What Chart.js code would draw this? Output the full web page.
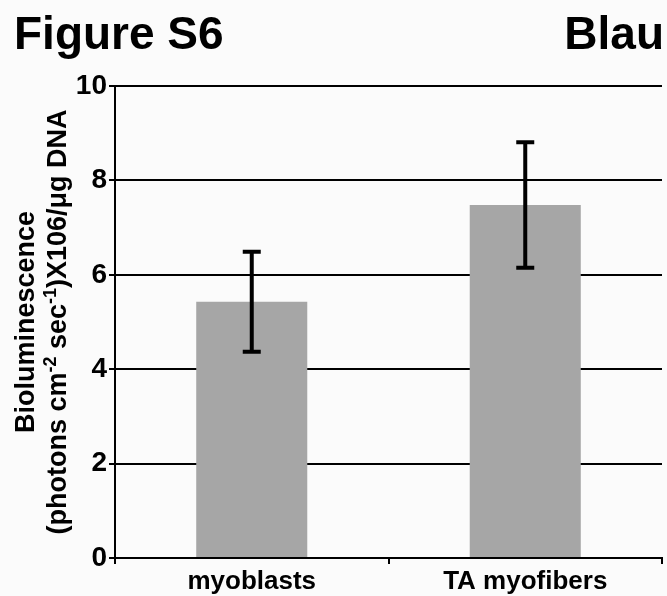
<!DOCTYPE html>
<html>
<head>
<meta charset="utf-8">
<script src="https://cdn.jsdelivr.net/npm/chart.js@4/dist/chart.umd.min.js"></script>
<style>
  html, body { margin: 0; padding: 0; background: #fbfbfb; }
  #wrap { width: 667px; height: 596px; position: relative; }
</style>
</head>
<body>
<div id="wrap"><canvas id="bioChart"></canvas></div>
<script>
// values
var categories = ['myoblasts', 'TA myofibers'];
var means = [5.43, 7.48];
var errors = [1.06, 1.33];
var yTicks = [0, 2, 4, 6, 8, 10];

var FONT = "'Liberation Sans', Arial, sans-serif";

// titles + rotated y label with superscripts
var textPlugin = {
    id: 'figText',
    afterDraw: function(chart) {
        var ctx = chart.ctx;
        var area = chart.chartArea;
        ctx.save();
        ctx.fillStyle = '#000';
        ctx.font = 'bold 46px ' + FONT;
        ctx.textBaseline = 'alphabetic';
        ctx.textAlign = 'left';
        ctx.fillText('Figure S6', 14, 49);
        ctx.textAlign = 'right';
        ctx.fillText('Blau', 664, 49);

        var cy = (area.top + area.bottom) / 2;
        // line 1
        ctx.translate(34, cy);
        ctx.rotate(-Math.PI / 2);
        ctx.font = 'bold 27px ' + FONT;
        ctx.textAlign = 'center';
        ctx.fillText('Bioluminescence', 0, 0);
        ctx.restore();

        // line 2, pieces with superscripts
        var parts = [
            ['(photons cm', false],
            ['-2', true],
            [' sec', false],
            ['-1', true],
            [')X106/\u03bcg DNA', false]
        ];
        ctx.save();
        ctx.fillStyle = '#000';
        ctx.translate(66, cy);
        ctx.rotate(-Math.PI / 2);
        ctx.textAlign = 'left';
        ctx.textBaseline = 'alphabetic';
        var total = 0;
        parts.forEach(function(p) {
            ctx.font = (p[1] ? 'bold 18px ' : 'bold 27px ') + FONT;
            total += ctx.measureText(p[0]).width;
        });
        var x = -total / 2;
        parts.forEach(function(p) {
            ctx.font = (p[1] ? 'bold 18px ' : 'bold 27px ') + FONT;
            ctx.fillText(p[0], x, p[1] ? -10 : 0);
            x += ctx.measureText(p[0]).width;
        });
        ctx.restore();
    }
};

var errorBarPlugin = {
    id: 'errorBars',
    afterDatasetsDraw: function(chart) {
        var ctx = chart.ctx;
        var yScale = chart.scales.y;
        var meta = chart.getDatasetMeta(0);
        ctx.save();
        ctx.strokeStyle = '#000';
        ctx.lineWidth = 4;
        meta.data.forEach(function(bar, i) {
            var top = yScale.getPixelForValue(means[i] + errors[i]);
            var bot = yScale.getPixelForValue(means[i] - errors[i]);
            ctx.beginPath();
            ctx.moveTo(bar.x, top);
            ctx.lineTo(bar.x, bot);
            ctx.moveTo(bar.x - 9, top);
            ctx.lineTo(bar.x + 9, top);
            ctx.moveTo(bar.x - 9, bot);
            ctx.lineTo(bar.x + 9, bot);
            ctx.stroke();
        });
        ctx.restore();
    }
};

var bioCanvas = document.getElementById('bioChart').getContext('2d');

var bioChart = new Chart(bioCanvas, {
    type: 'bar',
    data: {
        labels: categories,
        datasets: [{
            data: means,
            backgroundColor: '#a6a6a6',
            borderWidth: 0,
            barPercentage: 0.406,
            categoryPercentage: 1
        }]
    },
    options: {
        responsive: true,
        maintainAspectRatio: false,
        animation: false,
        layout: { padding: { top: 86, right: 5, left: 0, bottom: 0 } },
        plugins: {
            legend: { display: false },
            tooltip: { enabled: false }
        },
        scales: {
            x: {
                grid: { drawOnChartArea: false, color: '#000', lineWidth: 2, tickLength: 6 },
                border: { color: '#000', width: 2 },
                ticks: { color: '#000', padding: 2, font: { family: FONT, size: 26, weight: 'bold' } },
                afterFit: function(scale) { scale.height = 38; }
            },
            y: {
                min: 0,
                max: 10,
                afterBuildTicks: function(scale) {
                    scale.ticks = yTicks.map(function(v) { return { value: v }; });
                },
                grid: { color: '#000', lineWidth: 2, tickLength: 6 },
                border: { color: '#000', width: 2 },
                ticks: { color: '#000', padding: 2, font: { family: FONT, size: 28, weight: 'bold' } },
                afterFit: function(scale) { scale.width = 115; }
            }
        }
    },
    plugins: [textPlugin, errorBarPlugin]
});
</script>
</body>
</html>
